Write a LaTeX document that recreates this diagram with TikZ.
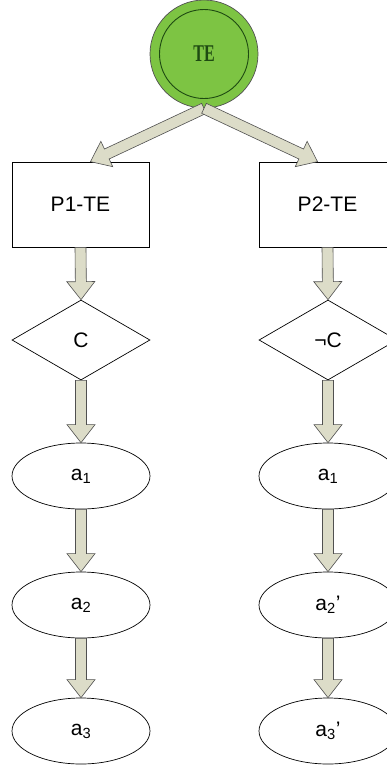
\documentclass[tikz,border=0pt]{standalone}
\usepackage{fontspec}
\usepackage{graphicx}
\setmainfont{Liberation Sans}
\newfontfamily\tefont{Liberation Serif}
\usetikzlibrary{shapes.geometric,calc}

\definecolor{tegreen}{HTML}{7DC443}
\definecolor{tedark}{HTML}{1E4A12}
\definecolor{arrowfill}{HTML}{DCDCC8}
\definecolor{arrowline}{HTML}{505050}

\tikzset{
    label font/.style={font=\fontsize{21}{25}\selectfont},
    box/.style={draw, line width=0.7pt, minimum width=137pt, minimum height=85pt, inner sep=0pt, label font},
    test/.style={draw, diamond, line width=0.7pt, minimum width=138pt, minimum height=80pt, inner sep=0pt, label font},
    act/.style={draw, ellipse, line width=0.7pt, minimum width=138pt, minimum height=66pt, inner sep=0pt, label font},
    arrowbody/.style={draw=arrowline, fill=arrowfill, line width=0.6pt, line join=miter},
}

% block arrow from #1 to #2
\newcommand{\blockarrow}[2]{%
    \draw[arrowbody] let \p1=($(#2)-(#1)$), \n1={atan2(\y1,\x1)}, \n2={veclen(\x1,\y1)} in
        [shift={(#1)}, rotate=\n1] (0pt,-5.5pt) -- (\n2*1pt-18pt,-5.5pt) -- (\n2*1pt-18pt,-14pt)
        -- (\n2*1pt,0pt) -- (\n2*1pt-18pt,14pt) -- (\n2*1pt-18pt,5.5pt) -- (0pt,5.5pt) -- cycle;
}

\begin{document}
\begin{tikzpicture}[x=1pt,y=-1pt]
    \useasboundingbox (0,0) rectangle (387,772);

    \node[circle, draw=arrowline, fill=tegreen, line width=0.7pt, minimum size=108pt] (te) at (204,54) {};
    \node[circle, draw=tedark, line width=0.9pt, minimum size=89pt, text=tedark,
        font=\tefont\bfseries\fontsize{16}{18}\selectfont] (tein) at (te) {\scalebox{1}[1.5]{TE}};

    \node[box] (p1) at (80.5,204.5) {P1-TE};
    \node[box] (p2) at (327.5,204.5) {P2-TE};
    \node[test] (c1) at (81,340) {C};
    \node[test] (c2) at (328,340) {¬C};
    \node[act] (l1) at (81,476) {a\textsubscript{1}};
    \node[act] (l2) at (81,605) {a\textsubscript{2}};
    \node[act] (l3) at (81,731) {a\textsubscript{3}};
    \node[act] (r1) at (328,476) {a\textsubscript{1}};
    \node[act] (r2) at (328,605) {a\textsubscript{2}'};
    \node[act] (r3) at (328,731) {a\textsubscript{3}'};

    \coordinate (p1in) at ($(p1.north)+(10,0)$);
    \coordinate (p2in) at ($(p2.north)+(-10,0)$);
    \blockarrow{te.south}{p1in}
    \blockarrow{te.south}{p2in}

    \foreach \a/\b in {p1/c1, c1/l1, l1/l2, l2/l3, p2/c2, c2/r1, r1/r2, r2/r3} {
        \blockarrow{\a.south}{\b.north}
    }
\end{tikzpicture}
\end{document}
